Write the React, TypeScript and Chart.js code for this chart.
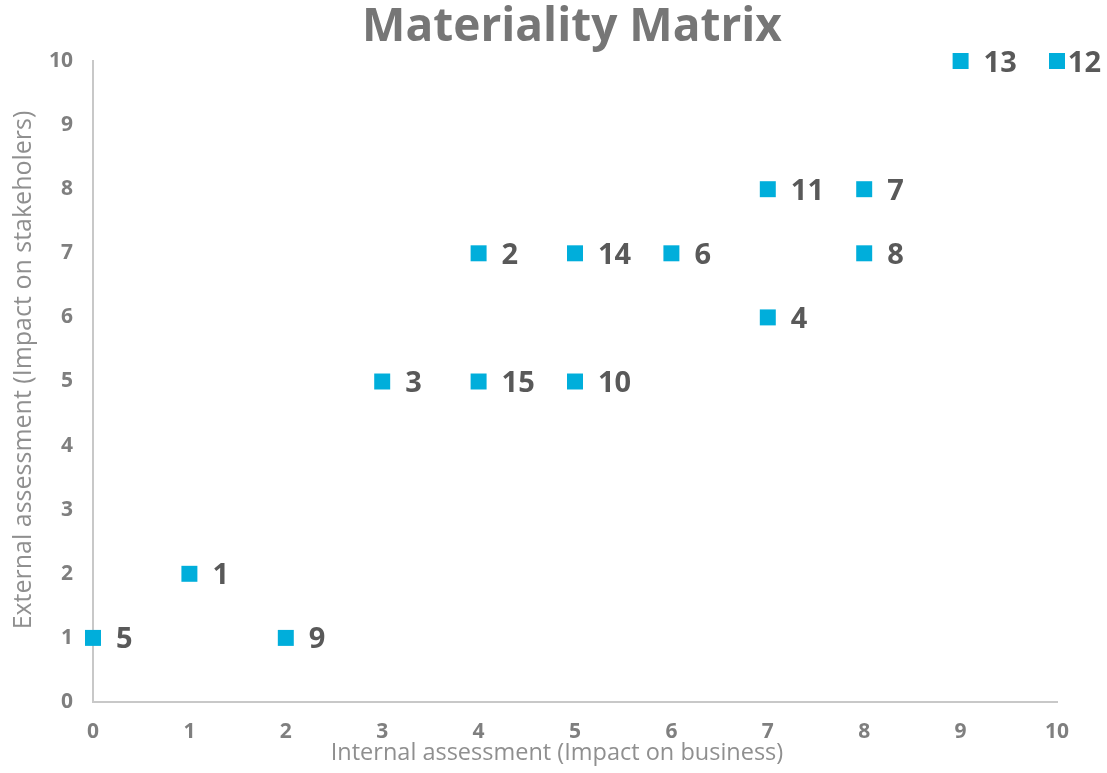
import React, { useEffect, useRef } from "react";
import { Chart, registerables } from "chart.js";

Chart.register(...registerables);

const issueLabels = ["5", "1", "9", "3", "15", "2", "10", "14", "6", "4", "11", "7", "8", "13", "12"];
const internalScores = [0, 1, 2, 3, 4, 4, 5, 5, 6, 7, 7, 8, 8, 9, 10];
const externalScores = [1, 2, 1, 5, 5, 7, 5, 7, 7, 6, 8, 8, 7, 10, 10];
const axisTicks = [0, 1, 2, 3, 4, 5, 6, 7, 8, 9, 10];

const chartTitle = "Materiality Matrix";
const xAxisTitle = "Internal assessment (Impact on business)";
const yAxisTitle = "External assessment (Impact on stakeholers)";

const FONT = "'Open Sans', 'Noto Sans', sans-serif";

const textPlugin = {
  id: "textPlugin",
  afterDatasetsDraw(chart: any) {
    const ctx = chart.ctx;
    const meta = chart.getDatasetMeta(0);
    ctx.save();
    ctx.fillStyle = "#595959";
    ctx.font = `bold 29px ${FONT}`;
    ctx.textAlign = "left";
    ctx.textBaseline = "alphabetic";
    meta.data.forEach((el: any, i: number) => {
      const t = issueLabels[i];
      const w = ctx.measureText(t).width;
      let x = el.x + 23;
      if (x + w > chart.width - 6) x = chart.width - 6 - w;
      ctx.fillText(t, x, el.y + 10.5);
    });
    ctx.restore();
  },
  afterDraw(chart: any) {
    const ctx = chart.ctx;
    const area = chart.chartArea;
    ctx.save();
    ctx.fillStyle = "#767676";
    ctx.font = `bold 46px ${FONT}`;
    ctx.textAlign = "center";
    ctx.textBaseline = "middle";
    ctx.fillText(chartTitle, (area.left + area.right) / 2 - 3, 28);

    ctx.fillStyle = "#8f8f8f";
    ctx.font = `23.5px ${FONT}`;
    ctx.fillText(xAxisTitle, 557, 753);

    ctx.font = `25px ${FONT}`;
    ctx.translate(24, 370);
    ctx.rotate(-Math.PI / 2);
    ctx.fillText(yAxisTitle, 0, 0);
    ctx.restore();
  },
};

export default function App() {
  const ref = useRef<HTMLCanvasElement | null>(null);

  useEffect(() => {
    if (!ref.current) return;
    const chart = new Chart(ref.current, {
      type: "scatter",
      data: {
        datasets: [
          {
            label: "Issues",
            data: internalScores.map((x, i) => ({ x, y: externalScores[i] })),
            pointStyle: "rect",
            pointRadius: 11.3,
            pointHoverRadius: 11.3,
            backgroundColor: "#00AEDB",
            borderColor: "#00AEDB",
            borderWidth: 0,
            clip: false,
          },
        ],
      },
      plugins: [textPlugin],
      options: {
        animation: false,
        responsive: false,
        events: [],
        layout: { padding: { left: 0, top: 61, right: 50, bottom: 0 } },
        plugins: {
          legend: { display: false },
          title: { display: false },
          tooltip: { enabled: false },
        },
        scales: {
          x: {
            type: "linear",
            min: 0,
            max: 10,
            afterBuildTicks: (s: any) => {
              s.ticks = axisTicks.map((v) => ({ value: v }));
            },
            afterFit: (s: any) => {
              s.height = 71;
              s.paddingLeft = 0;
              s.paddingRight = 0;
            },
            grid: { display: false, drawTicks: false },
            border: { display: true, color: "#c8c8c8", width: 2 },
            ticks: {
              padding: 17,
              color: "#7f7f7f",
              font: { family: FONT, size: 21, weight: "bold" },
            },
          },
          y: {
            type: "linear",
            min: 0,
            max: 10,
            afterBuildTicks: (s: any) => {
              s.ticks = axisTicks.map((v) => ({ value: v }));
            },
            afterFit: (s: any) => {
              s.width = 93;
              s.paddingTop = 0;
              s.paddingBottom = 0;
            },
            grid: { display: false, drawTicks: false },
            border: { display: true, color: "#c8c8c8", width: 2 },
            ticks: {
              padding: 20,
              color: "#7f7f7f",
              font: { family: FONT, size: 21, weight: "bold" },
            },
          },
        },
      },
    } as any);
    return () => chart.destroy();
  }, []);

  return (
    <div style={{ position: "fixed", left: 0, top: 0, width: 1107, height: 773, background: "#ffffff" }}>
      <canvas ref={ref} width={1107} height={773} style={{ width: 1107, height: 773, display: "block" }} />
    </div>
  );
}
